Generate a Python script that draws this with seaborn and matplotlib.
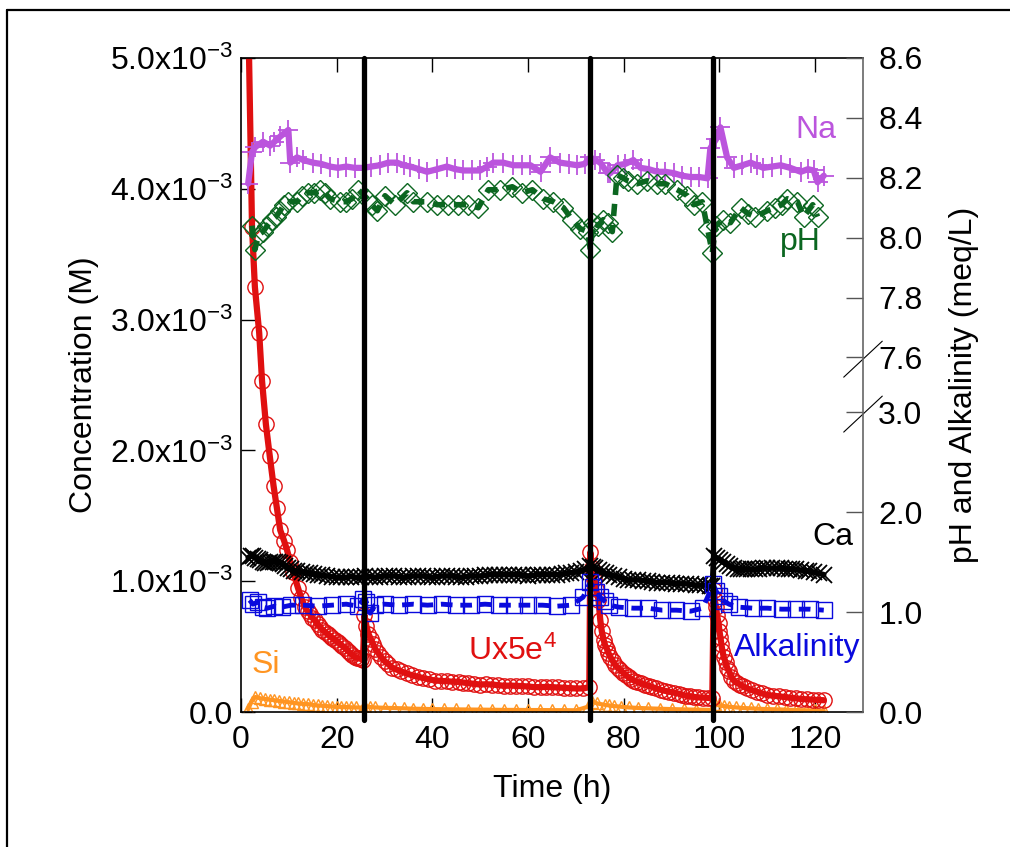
import numpy as np
import matplotlib
matplotlib.use("Agg")
import matplotlib.pyplot as plt
import seaborn as sns
from matplotlib.lines import Line2D

# ---------------- data ----------------
# Ux (x5e4), concentration in mM
ux_t = [1.4, 2.3, 2.9, 3.8, 4.4, 5.2, 6.0, 6.8, 7.5, 8.2, 9.0, 9.6, 10.3, 10.9, 11.9, 12.6,
        13.4, 13.9, 14.4, 14.9, 15.5, 16.0, 16.5, 17.0, 17.6, 18.1, 18.6, 19.1, 19.7, 20.2,
        20.7, 21.2, 21.8, 22.3, 22.8, 23.3, 23.8, 24.2, 24.7, 25.1, 25.5,
        25.8, 26.2, 26.6, 27.1, 27.6, 28.1, 28.7, 29.3, 30.0, 30.8, 31.6, 32.5, 33.5, 34.6,
        35.8, 36.9, 38.0, 39.3, 40.6, 41.8, 43.0, 44.2, 45.5, 46.5, 47.5, 48.8, 50.0, 51.2,
        52.5, 53.8, 55.0, 56.2, 57.5, 58.8, 60.0, 61.3, 62.6, 63.8, 65.0, 66.2, 67.5, 68.8,
        70.0, 71.5, 72.8,
        73.0, 73.4, 73.8, 74.2, 74.7, 75.1, 75.4, 75.8, 76.1, 76.5, 76.8, 77.2, 77.7, 78.2,
        78.7, 79.3, 79.9, 80.5, 81.0, 81.6, 82.2, 82.8, 83.6, 84.5, 85.2, 86.0, 86.8, 87.7,
        88.6, 89.5, 90.5, 91.5, 92.2, 93.0, 93.8, 94.6, 95.5, 96.5, 97.5, 98.5,
        98.8, 99.0, 99.3, 99.5, 99.8, 100.0, 100.2, 100.4, 100.6, 100.9, 101.3, 101.6, 102.0,
        102.5, 103.0, 103.6, 104.3, 105.0, 105.8, 106.8, 107.8, 108.9, 110.0, 111.2, 112.5,
        113.6, 114.8, 115.9, 117.0, 118.2, 119.5, 120.6, 121.8]
ux_mM = [5.6, 3.71, 3.25, 2.90, 2.53, 2.20, 1.96, 1.73, 1.56, 1.39, 1.31, 1.24, 1.15, 1.07, 0.95, 0.87,
         0.80, 0.77, 0.75, 0.72, 0.70, 0.67, 0.65, 0.63, 0.61, 0.595, 0.58, 0.565, 0.55, 0.535,
         0.52, 0.505, 0.49, 0.47, 0.45, 0.435, 0.42, 0.415, 0.41, 0.405, 0.40,
         0.74, 0.66, 0.60, 0.56, 0.52, 0.48, 0.45, 0.42, 0.39, 0.365, 0.34, 0.325, 0.31, 0.295,
         0.28, 0.27, 0.26, 0.25, 0.24, 0.238, 0.235, 0.232, 0.23, 0.225, 0.22, 0.215, 0.21, 0.212,
         0.21, 0.205, 0.20, 0.202, 0.20, 0.198, 0.195, 0.19, 0.19, 0.192, 0.19, 0.188, 0.185, 0.182,
         0.18, 0.18, 0.19,
         1.22, 1.10, 1.02, 0.94, 0.86, 0.70, 0.62, 0.55, 0.51, 0.48, 0.45, 0.42, 0.39, 0.36,
         0.34, 0.32, 0.30, 0.28, 0.265, 0.25, 0.24, 0.23, 0.22, 0.21, 0.20, 0.19, 0.18, 0.17,
         0.162, 0.155, 0.148, 0.14, 0.132, 0.125, 0.12, 0.115, 0.112, 0.11, 0.108, 0.105,
         0.93, 0.86, 0.80, 0.74, 0.68, 0.62, 0.57, 0.52, 0.47, 0.42, 0.38, 0.34, 0.31,
         0.27, 0.24, 0.225, 0.21, 0.195, 0.18, 0.167, 0.155, 0.142, 0.13, 0.125, 0.12,
         0.115, 0.11, 0.105, 0.10, 0.097, 0.095, 0.092, 0.09]

# Ca, mM
ca_t = [1.5, 2.0, 2.5, 3.0, 3.5, 4.0, 4.5, 5.0, 5.6, 6.1, 6.6, 7.2, 7.7, 8.2, 8.7, 9.2, 9.8,
        10.4, 11.0, 11.8, 12.7, 13.6, 14.5, 15.2, 16.0, 17.0, 18.0, 19.0, 20.0, 21.0, 22.0,
        23.0, 24.0, 25.0, 26.0, 27.0, 28.0, 29.0, 30.0, 31.0, 32.0, 33.0, 34.0, 35.0, 36.0,
        37.0, 38.0, 39.0, 40.0, 41.0, 42.0, 43.0, 44.0, 45.0, 46.0, 47.0, 48.0, 49.0, 50.0,
        51.0, 52.0, 53.0, 54.0, 55.0, 56.0, 57.0, 58.0, 59.0, 60.0, 61.0, 62.0, 63.0, 64.0,
        65.0, 66.0, 67.0, 68.0, 69.0, 70.0, 71.0, 72.0, 73.0, 73.5, 74.0, 74.8, 75.5, 76.2,
        77.0, 78.0, 79.0, 80.0, 80.8, 82.0, 83.0, 84.0, 85.0, 86.0, 87.0, 88.0, 89.0, 90.0,
        91.0, 92.0, 93.0, 94.0, 95.0, 96.0, 97.0, 98.0, 98.5, 98.8, 99.5, 100.2, 100.8, 101.5,
        102.2, 103.0, 103.8, 104.5, 105.2, 105.8, 106.6, 107.5, 108.2, 109.0, 110.0, 111.0,
        112.0, 112.8, 113.6, 114.5, 115.2, 116.0, 117.0, 118.0, 118.8, 119.7, 120.8, 121.8]
ca_mM = [1.18, 1.19, 1.19, 1.18, 1.17, 1.16, 1.15, 1.14, 1.14, 1.15, 1.15, 1.15, 1.15, 1.14, 1.13, 1.12, 1.10,
         1.09, 1.08, 1.075, 1.07, 1.065, 1.06, 1.055, 1.05, 1.045, 1.04, 1.035, 1.03, 1.03, 1.03,
         1.035, 1.03, 1.03, 1.04, 1.035, 1.03, 1.035, 1.04, 1.04, 1.04, 1.035, 1.03, 1.035, 1.04,
         1.04, 1.04, 1.035, 1.03, 1.035, 1.04, 1.04, 1.04, 1.035, 1.03, 1.035, 1.04, 1.04, 1.04,
         1.045, 1.05, 1.05, 1.05, 1.05, 1.05, 1.05, 1.05, 1.045, 1.04, 1.045, 1.05, 1.05, 1.05,
         1.05, 1.05, 1.055, 1.06, 1.065, 1.07, 1.08, 1.09, 1.12, 1.11, 1.10, 1.085, 1.07, 1.06,
         1.05, 1.04, 1.03, 1.02, 1.01, 1.01, 1.01, 1.005, 1.00, 0.995, 0.99, 0.99, 0.99, 0.985,
         0.98, 0.98, 0.98, 0.975, 0.97, 0.97, 0.97, 0.965, 0.96, 1.19, 1.175, 1.16, 1.145, 1.13,
         1.115, 1.10, 1.095, 1.09, 1.09, 1.09, 1.09, 1.09, 1.095, 1.10, 1.10, 1.10,
         1.10, 1.10, 1.095, 1.09, 1.09, 1.09, 1.085, 1.08, 1.075, 1.07, 1.06, 1.05]

# Si, mM
si_t = [1.5, 2.2, 3.0, 4.0, 5.0, 6.0, 7.0, 8.0, 9.0, 10.0, 11.0, 12.0, 13.0, 14.0, 15.0, 16.0,
        17.0, 18.0, 19.0, 20.0, 21.0, 22.0, 23.0, 24.0, 25.5, 26.0, 27.0, 28.0, 30.0, 32.0,
        34.0, 36.0, 38.0, 40.0, 42.5, 45.0, 47.5, 50.0, 52.5, 55.0, 57.5, 60.0, 62.5, 65.0,
        67.5, 70.0, 72.5, 73.3, 74.5, 76.0, 77.0, 78.0, 79.5, 81.0, 83.0, 85.0, 87.5, 90.0,
        92.5, 95.0, 98.5, 99.0, 100.0, 101.0, 102.0, 103.5, 105.0, 106.5, 108.0, 110.0,
        112.0, 114.0, 116.0, 118.0, 120.0, 121.8]
si_mM = [0.02, 0.08, 0.115, 0.105, 0.10, 0.095, 0.09, 0.085, 0.08, 0.075, 0.07, 0.065, 0.062, 0.06, 0.055, 0.05,
         0.048, 0.045, 0.042, 0.04, 0.039, 0.038, 0.036, 0.035, 0.033, 0.04, 0.038, 0.035, 0.032, 0.03,
         0.028, 0.025, 0.024, 0.022, 0.021, 0.02, 0.019, 0.018, 0.017, 0.016, 0.016, 0.015, 0.015, 0.014,
         0.014, 0.013, 0.04, 0.08, 0.065, 0.055, 0.05, 0.045, 0.04, 0.035, 0.031, 0.028, 0.025, 0.022,
         0.02, 0.018, 0.016, 0.06, 0.05, 0.045, 0.04, 0.035, 0.03, 0.028, 0.025, 0.022,
         0.02, 0.018, 0.015, 0.013, 0.012, 0.01]

# Na, mM
na_t = [1.5, 2.3, 3.0, 4.6, 6.1, 7.0, 8.2, 9.9, 10.3, 11.7, 13.0, 15.0, 16.8, 18.6, 20.3, 22.0,
        23.8, 25.5, 27.2, 29.0, 30.8, 32.6, 34.0, 35.4, 37.2, 38.9, 41.0, 43.0, 44.8, 46.5,
        48.2, 50.0, 51.4, 52.7, 54.8, 56.9, 58.7, 60.5, 62.6, 64.6, 66.7, 68.5, 70.3, 71.8,
        73.0, 74.0, 75.1, 76.6, 77.2, 78.7, 80.3, 82.0, 83.5, 85.2, 87.0, 88.7, 90.4, 92.2,
        94.0, 95.8, 97.5, 98.1, 99.3, 100.2, 101.6, 103.0, 104.8, 106.5, 107.8, 109.2, 111.0,
        112.8, 114.8, 117.0, 118.5, 119.7, 120.5, 121.8]
na_mM = [4.04, 4.28, 4.32, 4.36, 4.33, 4.36, 4.40, 4.45, 4.20, 4.24, 4.22, 4.20, 4.19, 4.17, 4.16, 4.17,
         4.16, 4.16, 4.17, 4.18, 4.20, 4.20, 4.18, 4.17, 4.15, 4.13, 4.15, 4.17, 4.15, 4.14,
         4.14, 4.14, 4.17, 4.20, 4.20, 4.18, 4.18, 4.18, 4.13, 4.24, 4.20, 4.19, 4.18, 4.19,
         4.24, 4.22, 4.20, 4.12, 4.12, 4.18, 4.19, 4.22, 4.16, 4.15, 4.13, 4.13, 4.12, 4.10,
         4.09, 4.09, 4.08, 4.31, 4.38, 4.47, 4.24, 4.16, 4.18, 4.20, 4.18, 4.16, 4.17,
         4.18, 4.16, 4.13, 4.15, 4.14, 4.05, 4.10]

# Alkalinity, meq/L
alk_t = [1.8, 2.5, 3.5, 4.5, 5.5, 7.0, 8.5, 10.5, 13.0, 16.0, 19.0, 22.0, 24.5, 25.6, 26.2, 27.0,
         28.0, 30.0, 33.0, 36.0, 39.0, 42.0, 45.0, 48.0, 51.0, 54.0, 57.0, 60.0, 63.0, 66.0,
         69.0, 71.5, 73.0, 73.6, 74.2, 75.0, 76.0, 77.0, 79.0, 82.0, 85.0, 88.0, 91.0, 94.0,
         96.5, 98.7, 99.3, 100.0, 101.0, 102.0, 104.0, 107.0, 110.0, 113.0, 116.0, 119.0, 121.8]
alk = [1.12, 1.08, 1.10, 1.05, 1.04, 1.06, 1.05, 1.07, 1.07, 1.06, 1.07, 1.08, 1.06, 1.13, 1.10, 0.99,
       1.07, 1.08, 1.07, 1.08, 1.07, 1.08, 1.07, 1.07, 1.08, 1.07, 1.07, 1.07, 1.07, 1.06,
       1.07, 1.15, 1.30, 1.25, 1.20, 1.15, 1.11, 1.07, 1.05, 1.04, 1.04, 1.02, 1.02, 1.01,
       1.04, 1.28, 1.21, 1.16, 1.11, 1.08, 1.05, 1.04, 1.04, 1.03, 1.03, 1.03, 1.02]

# pH
ph_t = [2.3, 2.9, 3.7, 4.6, 5.5, 6.5, 7.3, 8.2, 9.0, 9.9, 11.7, 12.8, 14.0, 15.2, 16.5, 17.5,
        18.6, 20.7, 22.0, 23.2, 24.5, 26.4, 27.3, 28.5, 30.1, 32.2, 34.7, 36.0, 38.9, 41.0,
        43.3, 45.4, 47.5, 49.6, 51.7, 54.2, 56.7, 58.8, 60.9, 63.2, 65.3, 67.4, 69.2, 70.9,
        72.5, 73.0, 73.6, 74.6, 75.7, 76.6, 77.6, 78.6, 79.8, 80.8, 82.8, 84.9, 87.0, 88.7,
        91.2, 93.3, 94.6, 96.4, 97.5, 98.5, 99.2, 100.8, 102.3, 104.4, 106.0, 107.5, 110.0,
        111.7, 113.0, 114.2, 116.3, 117.6, 119.5, 120.5]
ph = [8.04, 7.96, 8.01, 8.02, 8.04, 8.06, 8.07, 8.09, 8.11, 8.12, 8.12, 8.14, 8.15, 8.15, 8.16, 8.15,
      8.13, 8.12, 8.12, 8.13, 8.16, 8.13, 8.11, 8.09, 8.14, 8.11, 8.15, 8.12, 8.12, 8.11,
      8.11, 8.11, 8.11, 8.10, 8.16, 8.16, 8.17, 8.15, 8.16, 8.13, 8.12, 8.10, 8.06, 8.03,
      8.02, 7.96, 8.05, 8.04, 8.06, 8.05, 8.02, 8.21, 8.20, 8.19, 8.18, 8.19, 8.18, 8.18,
      8.16, 8.14, 8.11, 8.12, 8.03, 7.95, 8.04, 8.06, 8.05, 8.10, 8.08, 8.07, 8.09,
      8.10, 8.11, 8.13, 8.12, 8.07, 8.11, 8.07]

event_times = [25.7, 73.0, 98.7]

x_ticks = [0, 20, 40, 60, 80, 100, 120]
left_ticks = [0.0, 1.0e-3, 2.0e-3, 3.0e-3, 4.0e-3, 5.0e-3]
left_labels = ["0.0", r"1.0x10$^{-3}$", r"2.0x10$^{-3}$", r"3.0x10$^{-3}$",
               r"4.0x10$^{-3}$", r"5.0x10$^{-3}$"]
right_ticks = [0.0, 1.0, 2.0, 3.0, 7.6, 7.8, 8.0, 8.2, 8.4, 8.6]

# ---------------- style ----------------
sns.set_theme(style="white")
plt.rcParams["font.family"] = ["Liberation Sans", "DejaVu Sans"]
plt.rcParams["mathtext.fontset"] = "custom"
plt.rcParams["mathtext.rm"] = "Liberation Sans"
plt.rcParams["mathtext.default"] = "regular"
for k in ["text.color", "axes.labelcolor", "xtick.color", "ytick.color"]:
    plt.rcParams[k] = "black"

FS = 23
RED = "#E01010"
BLACK = "#000000"
ORANGE = "#FF9522"
ORCHID = "#BB55DD"
BLUE = "#0A0ADD"
GREEN = "#0B6620"

fig = plt.figure(figsize=(10.10, 8.47), dpi=100)
ax = fig.add_axes([241 / 1010, 1 - 712 / 847, (863 - 241) / 1010, (712 - 58) / 847])
ax2 = ax.twinx()

# break scale for right axis (px-like units)
LOW, GAP, UP = 99.7, 55.0 / 4.6, 299.0


def fwd(v):
    v = np.asarray(v, dtype=float)
    return np.where(v <= 3.0, v * LOW,
                    np.where(v >= 7.6, 3 * LOW + 55.0 + (v - 7.6) * UP,
                             3 * LOW + (v - 3.0) * GAP))


def inv(y):
    y = np.asarray(y, dtype=float)
    a = 3 * LOW
    b = a + 55.0
    return np.where(y <= a, y / LOW,
                    np.where(y >= b, 7.6 + (y - b) / UP, 3.0 + (y - a) / GAP))


# ---------------- left axis series ----------------
sns.lineplot(x=si_t, y=np.array(si_mM) * 1e-3, ax=ax, color=ORANGE, lw=3,
             marker="^", markersize=8, markerfacecolor="none", markeredgecolor=ORANGE,
             markeredgewidth=1.0, estimator=None, sort=False)
sns.lineplot(x=ux_t, y=np.array(ux_mM) * 1e-3, ax=ax, color=RED, lw=4.5,
             marker="o", markersize=11, markerfacecolor="none", markeredgecolor=RED,
             markeredgewidth=1.0, estimator=None, sort=False)
sns.lineplot(x=ca_t, y=np.array(ca_mM) * 1e-3, ax=ax, color=BLACK, lw=4,
             marker="x", markersize=11, markeredgecolor=BLACK,
             markeredgewidth=1.3, estimator=None, sort=False)
sns.lineplot(x=na_t, y=np.array(na_mM) * 1e-3, ax=ax, color=ORCHID, lw=4.5,
             marker="+", markersize=14, markeredgecolor=ORCHID,
             markeredgewidth=1.3, estimator=None, sort=False)

ax.set_xlim(0, 130)
ax.set_ylim(0, 5.0e-3)
ax.set_xticks(x_ticks)
ax.set_xticklabels([str(v) for v in x_ticks])
ax.set_yticks(left_ticks)
ax.set_yticklabels(left_labels)
ax.set_xlabel("Time (h)", fontsize=FS, labelpad=14)
ax.set_ylabel("Concentration (M)", fontsize=FS, labelpad=8)
ax.tick_params(axis="both", direction="in", length=10, width=1, labelsize=FS,
               color="black", top=True, bottom=True, left=True, right=False, pad=6)
ax.tick_params(axis="x", pad=9)
for s in ["left", "top", "bottom"]:
    ax.spines[s].set_color("black")
    ax.spines[s].set_linewidth(1.2)
ax.spines["right"].set_visible(False)

# ---------------- right axis series ----------------
ax2.set_yscale("function", functions=(fwd, inv))
sns.lineplot(x=alk_t, y=alk, ax=ax2, color=BLUE, lw=3.5, linestyle=(0, (2.4, 1.6)),
             marker="s", markersize=12, markerfacecolor="none", markeredgecolor=BLUE,
             markeredgewidth=1.0, estimator=None, sort=False)
sns.lineplot(x=ph_t, y=ph, ax=ax2, color=GREEN, lw=4, linestyle=(0, (2.2, 1.6)),
             marker="D", markersize=10, markerfacecolor="none", markeredgecolor=GREEN,
             markeredgewidth=1.0, estimator=None, sort=False)
for t in event_times:
    ax2.axvline(t, ymin=-0.012, ymax=1.0, color="black", lw=3.8, clip_on=False, zorder=5)

ax2.set_ylim(0, 8.6)
ax2.set_yticks(right_ticks)
ax2.set_yticklabels([f"{v:.1f}" for v in right_ticks])
ax2.yaxis.set_minor_locator(matplotlib.ticker.NullLocator())
ax2.set_ylabel("pH and Alkalinity (meq/L)", fontsize=FS, labelpad=19)
ax2.tick_params(axis="y", direction="in", length=12, width=1, labelsize=FS, pad=11,
                color="#555555")
ax2.spines["right"].set_color("#666666")
ax2.spines["right"].set_linewidth(1.2)
for s in ["left", "top", "bottom"]:
    ax2.spines[s].set_visible(False)
ax2.set_xlim(0, 130)

# axis break marks
for y0, y1 in [(0.512, 0.567), (0.428, 0.483)]:
    ax2.plot([0.969, 1.031], [y0, y1], transform=ax2.transAxes, color="black",
             lw=0.8, clip_on=False)

# ---------------- series labels ----------------
ax.text(120.1, 4.45e-3, "Na", color=ORCHID, fontsize=FS, ha="center", va="center")
ax.text(117.0, 3.59e-3, "pH", color=GREEN, fontsize=FS, ha="center", va="center")
ax.text(123.6, 1.34e-3, "Ca", color=BLACK, fontsize=FS, ha="center", va="center")
ax.text(56.7, 0.46e-3, r"Ux5e$^{4}$", color=RED, fontsize=FS, ha="center", va="center")
ax.text(116.3, 0.49e-3, "Alkalinity", color=BLUE, fontsize=FS, ha="center", va="center")
ax.text(5.2, 0.36e-3, "Si", color=ORANGE, fontsize=FS, ha="center", va="center")

# figure border (left and top edges visible)
fig.add_artist(Line2D([7 / 1010, 7 / 1010], [0, 1 - 10 / 847], transform=fig.transFigure,
                      color="black", lw=1.6))
fig.add_artist(Line2D([7 / 1010, 1.0], [1 - 10 / 847, 1 - 10 / 847], transform=fig.transFigure,
                      color="black", lw=1.6))

fig.savefig("out.png", dpi=100)
